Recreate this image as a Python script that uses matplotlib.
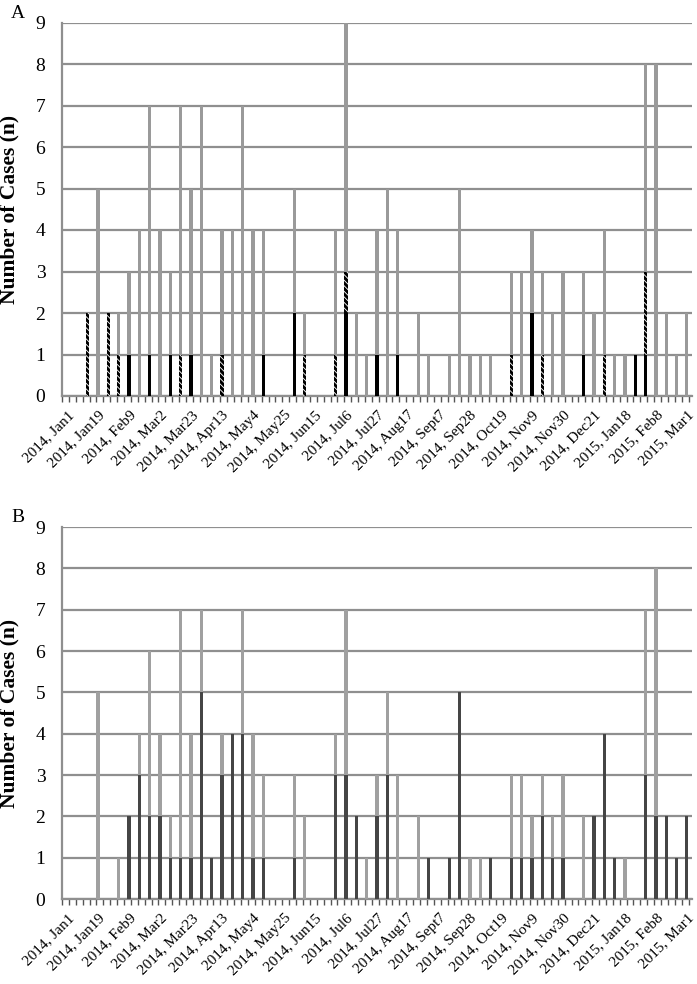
"""Weekly case counts, 2014-2015, two stacked bar panels."""

import matplotlib.pyplot as plt
import numpy as np
from matplotlib.ticker import FixedLocator

plt.rcParams["font.family"] = ["Liberation Serif", "DejaVu Serif"]
plt.rcParams["hatch.linewidth"] = 2.2

week_labels = [
    "2014, Jan1", "2014, Jan19", "2014, Feb9", "2014, Mar2", "2014, Mar23",
    "2014, Apr13", "2014, May4", "2014, May25", "2014, Jun15", "2014, Jul6",
    "2014, Jul27", "2014, Aug17", "2014, Sept7", "2014, Sep28", "2014, Oct19",
    "2014, Nov9", "2014, Nov30", "2014, Dec21", "2015, Jan18", "2015, Feb8",
    "2015, Mar1",
]

# panel A: three stacked series per week
a_black = [
    0, 0, 0, 0, 0, 0, 1, 0, 1, 0,
    1, 0, 1, 0, 0, 0, 0, 0, 0, 1,
    0, 0, 2, 0, 0, 0, 0, 2, 0, 0,
    1, 0, 1, 0, 0, 0, 0, 0, 0, 0,
    0, 0, 0, 0, 0, 2, 0, 0, 0, 0,
    1, 0, 0, 0, 0, 1, 1, 0, 0, 0,
    0,
]
a_hatched = [
    0, 0, 2, 0, 2, 1, 0, 0, 0, 0,
    0, 1, 0, 0, 0, 1, 0, 0, 0, 0,
    0, 0, 0, 1, 0, 0, 1, 1, 0, 0,
    0, 0, 0, 0, 0, 0, 0, 0, 0, 0,
    0, 0, 0, 1, 0, 0, 1, 0, 0, 0,
    0, 0, 1, 0, 0, 0, 2, 0, 0, 0,
    0,
]
a_gray = [
    0, 0, 0, 5, 0, 1, 2, 4, 6, 4,
    2, 6, 4, 7, 1, 3, 4, 7, 4, 3,
    0, 0, 3, 1, 0, 0, 3, 6, 2, 1,
    3, 5, 3, 0, 2, 1, 0, 1, 5, 1,
    1, 1, 0, 2, 3, 2, 2, 2, 3, 0,
    2, 2, 3, 1, 1, 0, 5, 8, 2, 1,
    2,
]

# panel B: two stacked series per week
b_dark = [
    0, 0, 0, 0, 0, 0, 2, 3, 2, 2,
    1, 1, 1, 5, 1, 3, 4, 4, 1, 1,
    0, 0, 1, 0, 0, 0, 3, 3, 2, 0,
    2, 3, 0, 0, 0, 1, 0, 1, 5, 0,
    0, 1, 0, 1, 1, 1, 2, 1, 1, 0,
    0, 2, 4, 1, 0, 0, 3, 2, 2, 1,
    2,
]
b_light = [
    0, 0, 0, 5, 0, 1, 0, 1, 4, 2,
    1, 6, 3, 2, 0, 1, 0, 3, 3, 2,
    0, 0, 2, 2, 0, 0, 1, 4, 0, 1,
    1, 2, 3, 0, 2, 0, 0, 0, 0, 1,
    1, 0, 0, 2, 2, 1, 1, 1, 2, 0,
    2, 0, 0, 0, 1, 0, 4, 6, 0, 0,
    0,
]

GRID = "#8f8f8f"
BAR_W = 0.32
W, H = 697, 984


def style_axis(ax):
    n = len(a_gray)
    ax.set_xlim(-0.5, n - 0.5)
    ax.set_ylim(0, 9)
    ax.set_yticks(range(10))
    ax.yaxis.grid(True, color=GRID, linewidth=1.6)
    ax.set_axisbelow(True)
    for side in ("top", "right"):
        ax.spines[side].set_visible(False)
    for side in ("left", "bottom"):
        ax.spines[side].set_color(GRID)
        ax.spines[side].set_linewidth(1.6)
    ax.tick_params(axis="y", length=0, labelsize=14, pad=12)
    ax.set_xticks(range(0, n, 3))
    ax.set_xticklabels(week_labels, rotation=45, ha="right", rotation_mode="anchor", fontsize=11)
    ax.tick_params(axis="x", which="major", length=0, pad=9)
    ax.xaxis.set_minor_locator(FixedLocator(np.arange(-0.5, n, 2 / 3)))
    ax.tick_params(axis="x", which="minor", length=4, width=1, color="#555555")
    ax.set_ylabel("Number of Cases (n)", fontsize=15.5, fontweight="bold")
    ax.yaxis.set_label_coords(-0.068, 0.5)


fig = plt.figure(figsize=(6.97, 9.84), dpi=100)
ax_a = fig.add_axes([62 / W, 1 - 396 / H, 630 / W, 373.5 / H])
ax_b = fig.add_axes([62 / W, 1 - 899 / H, 630 / W, 372 / H])

x = np.arange(len(a_gray))

black = np.array(a_black)
hatched = np.array(a_hatched)
ax_a.bar(x, black, BAR_W, color="black", linewidth=0, zorder=3)
ax_a.bar(x, hatched, BAR_W, bottom=black, color="white", edgecolor="black",
         hatch="\\\\\\\\\\\\", linewidth=0, zorder=3)
ax_a.bar(x, a_gray, BAR_W, bottom=black + hatched, color="#9a9a9a", linewidth=0, zorder=3)
style_axis(ax_a)

dark = np.array(b_dark)
ax_b.bar(x, dark, BAR_W, color="#454545", linewidth=0, zorder=3)
ax_b.bar(x, b_light, BAR_W, bottom=dark, color="#a0a0a0", linewidth=0, zorder=3)
style_axis(ax_b)

fig.text(18 / W, 1 - 13 / H, "A", fontsize=14, ha="center", va="center")
fig.text(18 / W, 1 - 517 / H, "B", fontsize=14, ha="center", va="center")

fig.savefig("out.png", dpi=100)
